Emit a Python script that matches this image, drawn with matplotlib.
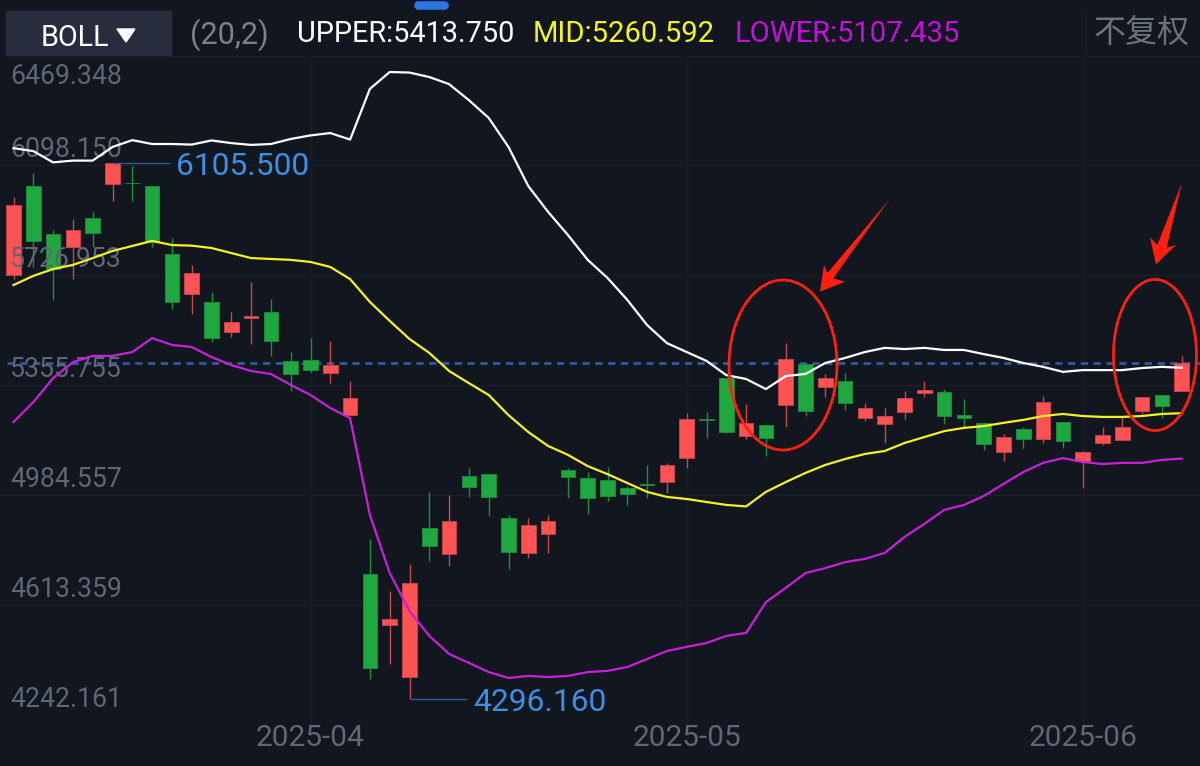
"""BOLL candlestick chart, dark app-screenshot style."""
import numpy as np
import matplotlib
matplotlib.use("Agg")
import matplotlib.pyplot as plt
from matplotlib.patches import Ellipse, Polygon, Rectangle, FancyBboxPatch

plt.rcParams["font.family"] = ["Roboto", "Noto Sans CJK SC", "DejaVu Sans"]

price_ticks = [6469.348, 6098.150, 5726.953, 5355.755, 4984.557, 4613.359, 4242.161]
date_labels = ["2025-04", "2025-05", "2025-06"]
date_idx = [15, 34, 54]

opens = [5727, 6027, 5865, 5821, 5919, 6034, 6039, 6027, 5798, 5663, 5636, 5535, 5583, 5602, 5437,
         5440, 5396, 5254, 4718, 4546, 4370, 4873, 4786, 5049, 5055, 4907, 4789, 4853, 5069, 5042,
         5035, 5008, 5020, 5028, 5109, 5240, 5379, 5184, 5221, 5288, 5427, 5349, 5369, 5244, 5224,
         5265, 5329, 5332, 5254, 5228, 5130, 5207, 5174, 5231, 5099, 5160, 5170, 5268, 5322, 5335]
closes = [5963, 5842, 5747, 5879, 5869, 6105.5, 6036, 5838, 5636, 5734, 5514, 5568, 5587, 5504, 5393,
          5406, 5423, 5312, 4401, 4566, 4688, 4812, 4897, 5012, 4978, 4792, 4883, 4897, 5045, 4974,
          4981, 4988, 5017, 5086, 5241, 5236, 5197, 5228, 5177, 5444, 5268, 5379, 5295, 5278, 5251,
          5312, 5339, 5251, 5244, 5157, 5180, 5174, 5298, 5167, 5130, 5187, 5214, 5315, 5285, 5430]
highs = [5990, 6071, 5879, 5916, 5940, 6105.5, 6095, 6027, 5852, 5761, 5670, 5602, 5703, 5646, 5467,
         5514, 5504, 5369, 4836, 4661, 4752, 4995, 4985, 5076, 5055, 4917, 4907, 4917, 5076, 5062,
         5079, 5015, 5086, 5093, 5261, 5265, 5379, 5292, 5221, 5498, 5427, 5393, 5396, 5295, 5278,
         5335, 5369, 5342, 5309, 5231, 5191, 5214, 5319, 5231, 5133, 5214, 5248, 5315, 5322, 5454]
lows = [5714, 5754, 5643, 5714, 5821, 5977, 5977, 5821, 5612, 5595, 5501, 5518, 5494, 5454, 5335,
        5396, 5362, 5254, 4364, 4414, 4296.16, 4762, 4745, 4978, 4914, 4735, 4772, 4789, 4974, 4920,
        4964, 4951, 4974, 4991, 5076, 5177, 5194, 5174, 5116, 5214, 5251, 5315, 5271, 5234, 5160,
        5241, 5315, 5224, 5214, 5136, 5099, 5143, 5160, 5143, 5008, 5153, 5170, 5258, 5244, 5335]

upper = [6155, 6145, 6107, 6113, 6113, 6159, 6182, 6169, 6169, 6167, 6181, 6172, 6166, 6169, 6186,
         6198, 6206, 6184, 6355, 6412, 6410, 6395, 6371, 6317, 6257, 6159, 6027, 5940, 5862, 5778,
         5717, 5643, 5558, 5497, 5467, 5437, 5389, 5376, 5342, 5386, 5393, 5430, 5447, 5467, 5481,
         5477, 5481, 5474, 5474, 5460, 5447, 5430, 5417, 5400, 5406, 5406, 5406, 5413, 5417, 5413.75]
mid = [5693, 5724, 5747, 5761, 5784, 5808, 5825, 5842, 5828, 5826, 5818, 5801, 5784, 5781, 5778,
       5771, 5754, 5713, 5636, 5572, 5511, 5464, 5403, 5362, 5322, 5254, 5197, 5150, 5120, 5082,
       5055, 5025, 4995, 4978, 4971, 4961, 4951, 4946, 4995, 5028, 5059, 5086, 5106, 5123, 5133,
       5160, 5180, 5200, 5211, 5217, 5228, 5238, 5251, 5258, 5251, 5248, 5248, 5251, 5258, 5260.592]
lower = [5231, 5298, 5379, 5433, 5454, 5454, 5467, 5514, 5491, 5484, 5450, 5423, 5403, 5393, 5356,
         5322, 5278, 5244, 4917, 4721, 4593, 4509, 4448, 4418, 4387, 4367, 4374, 4370, 4374, 4387,
         4391, 4404, 4431, 4458, 4472, 4485, 4509, 4519, 4623, 4671, 4721, 4738, 4758, 4769, 4789,
         4843, 4887, 4934, 4951, 4981, 5022, 5062, 5093, 5109, 5096, 5089, 5093, 5093, 5103, 5107.435]

BG = "#12161f"
GRID = "#181d27"
LABEL = "#5f6777"
RED = "#ff5252"
GREEN = "#1fa83f"
BLUE = "#3d8fe6"

fig = plt.figure(figsize=(12, 7.66), dpi=100, facecolor=BG)
ax = fig.add_axes([0, 0, 1, 1], facecolor=BG)
ax.set_xlim(-0.682, 59.924)
ax.set_ylim(4070.0, 6654.95)
ax.axis("off")

# overlay in screen pixels for the app chrome and hand-drawn marks
ov = fig.add_axes([0, 0, 1, 1], facecolor="none")
ov.set_xlim(0, 1200)
ov.set_ylim(766, 0)
ov.axis("off")

x = np.arange(len(opens))
opens, closes = np.array(opens), np.array(closes)
highs, lows = np.array(highs), np.array(lows)

# grid
for p in price_ticks[:-1]:
    ax.axhline(p, color=GRID, lw=1, zorder=1)
ax.vlines(date_idx, 4195, price_ticks[0], color=GRID, lw=1, zorder=1)

# last price
ax.plot([-0.35, 59.924], [closes[-1], closes[-1]], color="#2f5aa0", lw=2.0,
        dashes=(2.6, 2.0), zorder=1.5)

# candles
up = closes >= opens
colors = np.where(up, RED, GREEN)
wick_colors = np.where(up, "#c9474e", "#1f8f3b")
ax.vlines(x, lows, highs, colors=wick_colors, lw=1.0, zorder=2)
ax.bar(x, np.abs(closes - opens), bottom=np.minimum(opens, closes), width=0.74,
       color=colors, edgecolor=wick_colors, linewidth=0.6, zorder=3)

# price labels sit above their gridline, except the top one
for i, p in enumerate(price_ticks):
    ax.annotate(f"{p:.3f}", (0, p), xytext=(7.5, -6 if i == 0 else 1.2),
                xycoords=("axes fraction", "data"), textcoords="offset points",
                color=LABEL, fontsize=19.2, va="top" if i == 0 else "bottom", zorder=5,
                annotation_clip=False)

# bands
ax.plot(x, upper, color="#ffffff", lw=1.6, zorder=6)
ax.plot(x, mid, color="#f4f125", lw=1.6, zorder=6)
ax.plot(x, lower, color="#c81fdc", lw=1.6, zorder=6)

# high / low markers
hi = int(np.argmax(highs))
lo = int(np.argmin(lows))
ax.hlines(highs[hi], hi, hi + 2.9, color="#2a5a92", lw=1, zorder=4)
ax.annotate(f"{highs[hi]:.3f}", (hi + 3.2, highs[hi]), xytext=(0, -2.5), textcoords="offset points",
            color=BLUE, fontsize=22.9, va="center", zorder=6)
ax.hlines(lows[lo], lo, lo + 2.9, color="#2a5a92", lw=1, zorder=4)
ax.annotate(f"{lows[lo]:.3f}", (lo + 3.2, lows[lo]), xytext=(0, -2.5), textcoords="offset points",
            color=BLUE, fontsize=22.9, va="center", zorder=6)

for i, lab in zip(date_idx, date_labels):
    ax.annotate(lab, (i, 0), xytext=(0, 20), xycoords=("data", "axes fraction"),
                textcoords="offset points", color=LABEL, fontsize=21.5,
                ha="center", va="center", zorder=5)

# header chrome
ov.add_patch(Rectangle((0, 0), 1200, 55, color=BG, zorder=1))
ov.plot([6, 1200], [55.5, 55.5], color=GRID, lw=1, zorder=2)
ov.plot([1086, 1086], [11, 55], color=GRID, lw=1, zorder=2)
ov.add_patch(Rectangle((6, 11), 165, 44, color="#272d3c", zorder=2))
ov.add_patch(Polygon([(117, 29), (135, 29), (126, 42)], color="#ffffff", zorder=3))
ov.add_patch(FancyBboxPatch((417, 4), 29, 3, boxstyle="round,pad=0,rounding_size=1.5", color="#2f74e4",
                            mutation_aspect=1, lw=4, zorder=3))
ov.text(41, 37.5, "BOLL", color="#ffffff", fontsize=20.7, va="center", zorder=3)
ov.text(190, 34.5, "(20,2)", color="#7a8190", fontsize=22, va="center", zorder=3)
ov.text(297, 34.5, "UPPER:5413.750", color="#ffffff", fontsize=20.8, va="center", zorder=3)
ov.text(533, 34.5, "MID:5260.592", color="#f5f51e", fontsize=21.1, va="center", zorder=3)
ov.text(735, 34.5, "LOWER:5107.435", color="#c40fdc", fontsize=21, va="center", zorder=3)
ov.text(1094, 33, "不复权", color="#6c7280", fontsize=23, va="center", zorder=3)

# red hand-drawn circles and arrows
ov.add_patch(Ellipse((783, 365), 108, 170, fill=False, ec="#ff2010", lw=2, zorder=8))
ov.add_patch(Ellipse((1155, 355), 83, 151, fill=False, ec="#ff2010", lw=2, zorder=8))
ov.add_patch(Polygon([(889.3, 199.3), (833.3, 278.3), (845, 281.7), (820, 291.7), (824, 265), (827.3, 273.3)],
                     color="#ff2010", lw=0, zorder=8))
ov.add_patch(Polygon([(1181.7, 183.3), (1166.7, 247.7), (1176, 245), (1156, 264.3), (1150, 237.3), (1157.3, 245)],
                     color="#ff2010", lw=0, zorder=8))

fig.savefig("out.png", dpi=100, facecolor=BG)
